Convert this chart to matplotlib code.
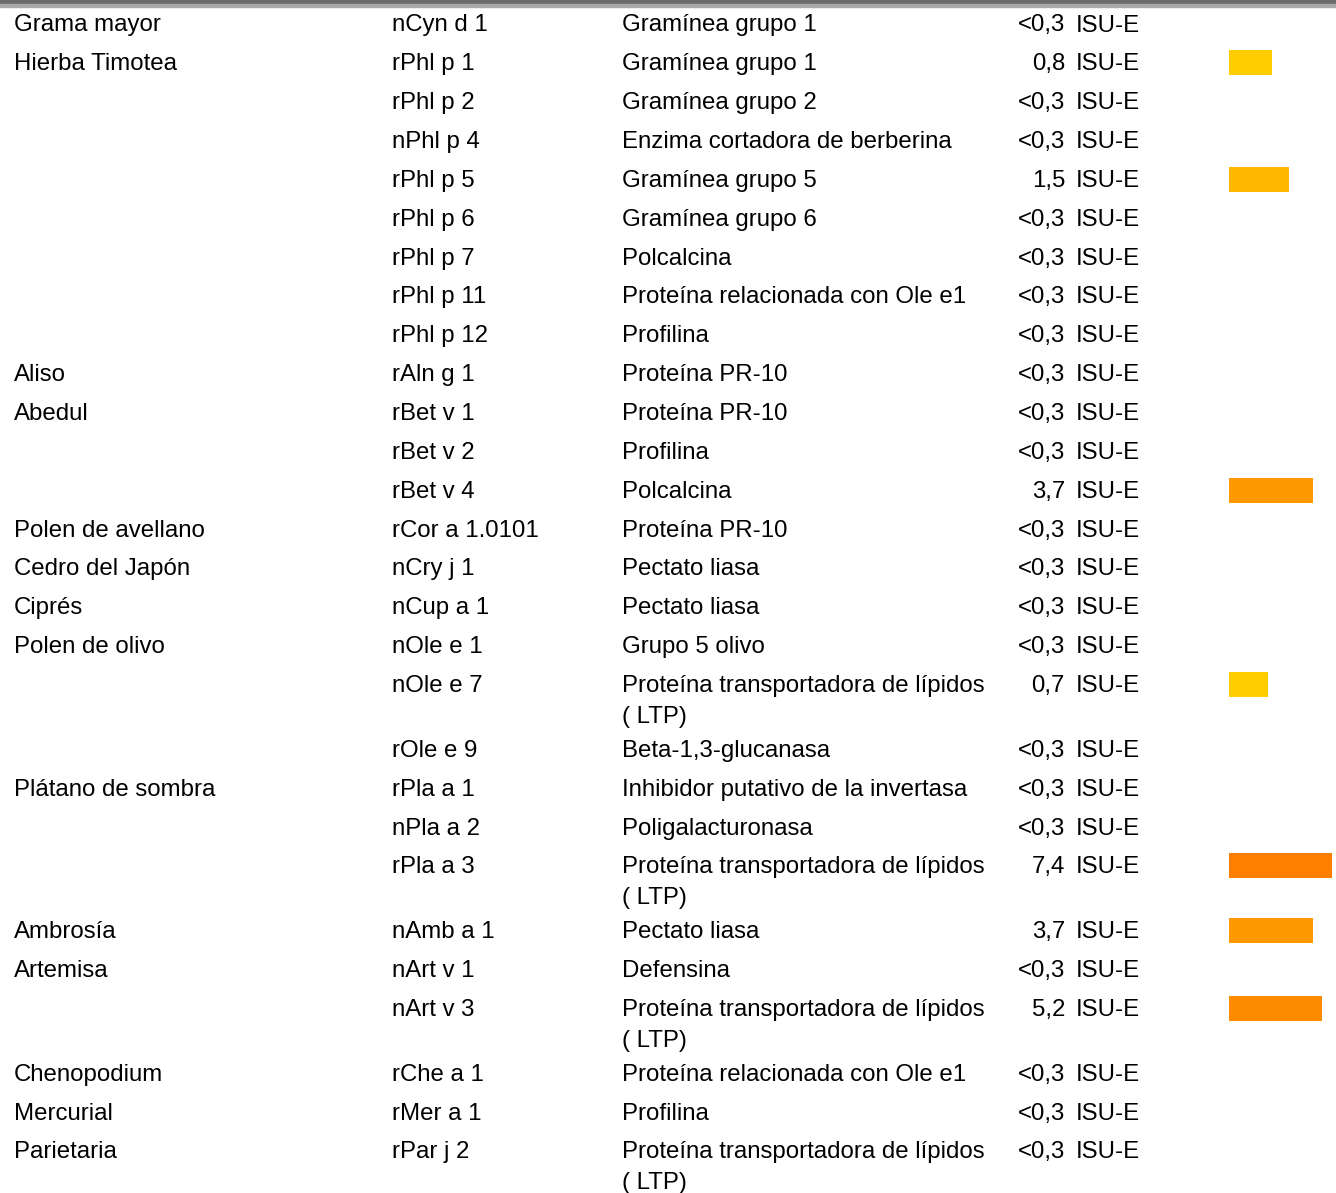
import numpy as np
import matplotlib
matplotlib.use("Agg")
import matplotlib.pyplot as plt
from matplotlib.patches import Rectangle

# table contents
sources = ["Grama mayor", "Hierba Timotea", "", "", "", "", "", "", "",
           "Aliso", "Abedul", "", "", "Polen de avellano", "Cedro del Japón",
           "Ciprés", "Polen de olivo", "", "", "Plátano de sombra", "", "",
           "Ambrosía", "Artemisa", "", "Chenopodium", "Mercurial", "Parietaria"]
components = ["nCyn d 1", "rPhl p 1", "rPhl p 2", "nPhl p 4", "rPhl p 5", "rPhl p 6",
              "rPhl p 7", "rPhl p 11", "rPhl p 12", "rAln g 1", "rBet v 1", "rBet v 2",
              "rBet v 4", "rCor a 1.0101", "nCry j 1", "nCup a 1", "nOle e 1", "nOle e 7",
              "rOle e 9", "rPla a 1", "nPla a 2", "rPla a 3", "nAmb a 1", "nArt v 1",
              "nArt v 3", "rChe a 1", "rMer a 1", "rPar j 2"]
LTP = "Proteína transportadora de lípidos\n( LTP)"
families = ["Gramínea grupo 1", "Gramínea grupo 1", "Gramínea grupo 2",
            "Enzima cortadora de berberina", "Gramínea grupo 5", "Gramínea grupo 6",
            "Polcalcina", "Proteína relacionada con Ole e1", "Profilina",
            "Proteína PR-10", "Proteína PR-10", "Profilina", "Polcalcina",
            "Proteína PR-10", "Pectato liasa", "Pectato liasa", "Grupo 5 olivo", LTP,
            "Beta-1,3-glucanasa", "Inhibidor putativo de la invertasa",
            "Poligalacturonasa", LTP, "Pectato liasa", "Defensina", LTP,
            "Proteína relacionada con Ole e1", "Profilina", LTP]
values = ["<0,3", "0,8", "<0,3", "<0,3", "1,5", "<0,3", "<0,3", "<0,3", "<0,3",
          "<0,3", "<0,3", "<0,3", "3,7", "<0,3", "<0,3", "<0,3", "<0,3", "0,7",
          "<0,3", "<0,3", "<0,3", "7,4", "3,7", "<0,3", "5,2", "<0,3", "<0,3", "<0,3"]
bar_colors = {"0,7": "#FFCC00", "0,8": "#FFCC00", "1,5": "#FFB800",
              "3,7": "#FF9900", "5,2": "#FF8C00", "7,4": "#FF7F00"}

W, H = 1336, 1193
fig = plt.figure(figsize=(W / 100, H / 100), dpi=100)
plt.rcParams['font.family'] = ['Liberation Sans', 'DejaVu Sans']

ax = fig.add_axes([0, 0, 1, 1])
ax.set_xlim(0, W)
ax.set_ylim(H, 0)
ax.axis('off')

# top grey rule
fig.patches.append(Rectangle((0, 1 - 4 / H), 1, 4 / H, transform=fig.transFigure,
                             color='#6b6b6b', zorder=5))
fig.patches.append(Rectangle((0, 1 - 7 / H), 1, 3 / H, transform=fig.transFigure,
                             color='#a8a8a8', zorder=5))

# row positions
row_h, extra, line_h = 38.85, 26, 31
ys = []
y = 24
for fam in families:
    ys.append(y)
    y += row_h + (extra if "\n" in fam else 0)

fs = 17.3
dy = 1.5  # centre offset for text vs. bars
for i in range(len(components)):
    y = ys[i] + dy
    ax.text(14, y, sources[i], fontsize=fs, va='center', ha='left')
    ax.text(392, y, components[i], fontsize=fs, va='center', ha='left')
    for k, line in enumerate(families[i].split("\n")):
        ax.text(622, y + k * line_h, line, fontsize=fs, va='center', ha='left')
    ax.text(1065, y, values[i], fontsize=fs, va='center', ha='right')
    ax.text(1076, y, "ISU-E", fontsize=fs, va='center', ha='left')

# bars on a log scale
bax = fig.add_axes([1229 / W, 0, 107 / W, 1])
bax.set_ylim(H, 0)
bax.set_xscale('log')
base = 0.166
bax.set_xlim(base, base * 10 ** (107 / 62.5))
bax.axis('off')
for i, v in enumerate(values):
    if v.startswith("<"):
        continue
    num = float(v.replace(",", "."))
    bax.barh(ys[i], num - base, left=base, height=25, color=bar_colors[v])

fig.savefig("out.png", dpi=100)
